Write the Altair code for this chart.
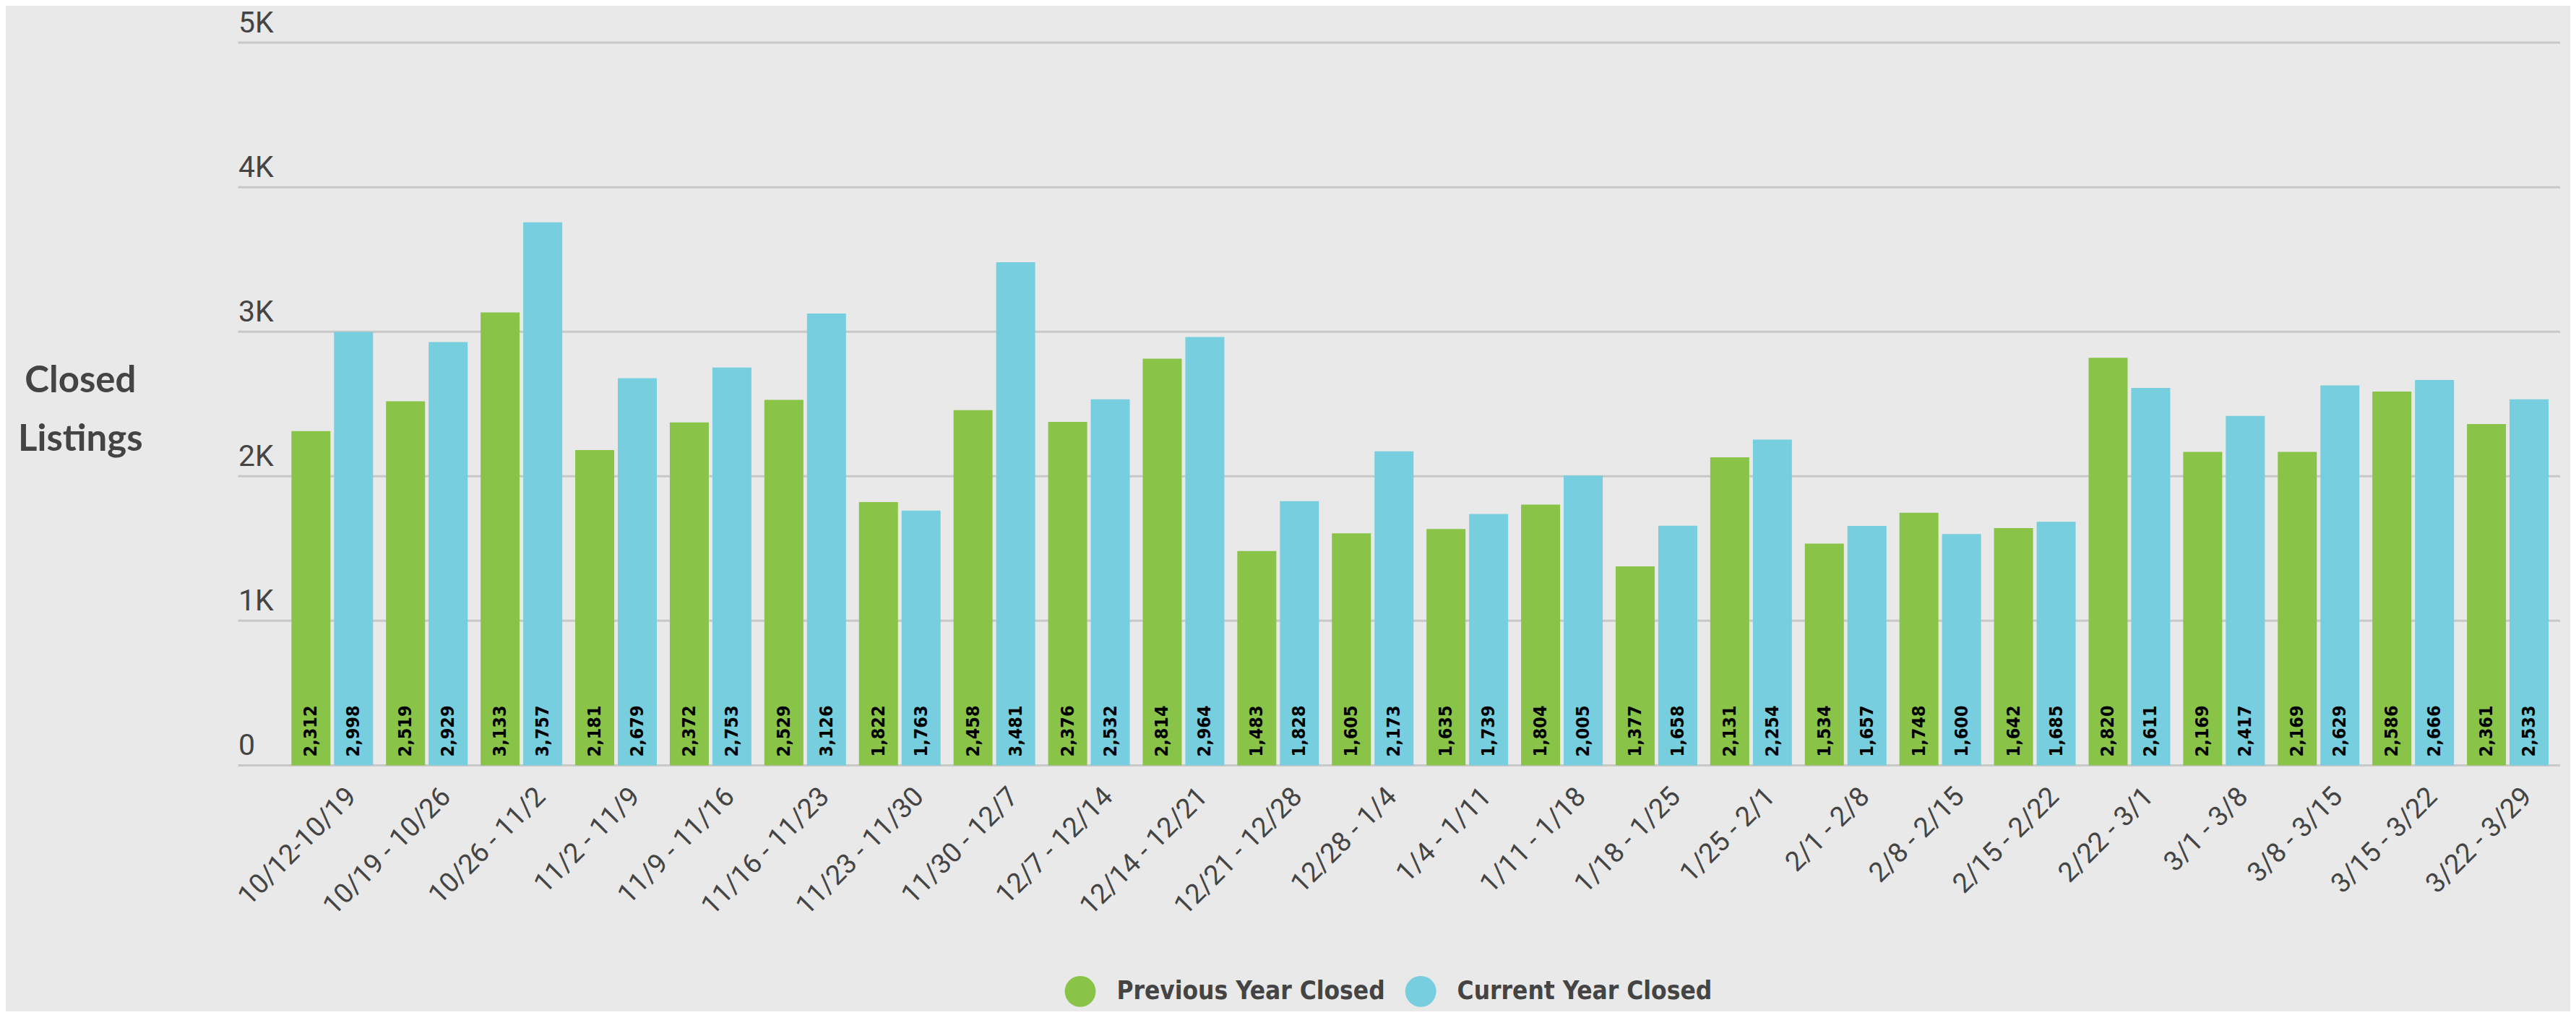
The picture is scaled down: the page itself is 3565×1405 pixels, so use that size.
import altair as alt
import pandas as pd

weeks = ["10/12-10/19", "10/19 - 10/26", "10/26 - 11/2", "11/2 - 11/9", "11/9 - 11/16",
         "11/16 - 11/23", "11/23 - 11/30", "11/30 - 12/7", "12/7 - 12/14", "12/14 - 12/21",
         "12/21 - 12/28", "12/28 - 1/4", "1/4 - 1/11", "1/11 - 1/18", "1/18 - 1/25",
         "1/25 - 2/1", "2/1 - 2/8", "2/8 - 2/15", "2/15 - 2/22", "2/22 - 3/1",
         "3/1 - 3/8", "3/8 - 3/15", "3/15 - 3/22", "3/22 - 3/29"]
previous = [2312, 2519, 3133, 2181, 2372, 2529, 1822, 2458, 2376, 2814, 1483, 1605,
            1635, 1804, 1377, 2131, 1534, 1748, 1642, 2820, 2169, 2169, 2586, 2361]
current = [2998, 2929, 3757, 2679, 2753, 3126, 1763, 3481, 2532, 2964, 1828, 2173,
           1739, 2005, 1658, 2254, 1657, 1600, 1685, 2611, 2417, 2629, 2666, 2533]
series = ["Previous Year Closed", "Current Year Closed"]
colors = ["#89c448", "#76cede"]
y_ticks = [0, 1000, 2000, 3000, 4000, 5000]

rows = []
for w, p, c in zip(weeks, previous, current):
    rows.append({"week": w, "series": series[0], "value": p, "base": 0})
    rows.append({"week": w, "series": series[1], "value": c, "base": 0})
df = pd.DataFrame(rows)
grid_df = pd.DataFrame({"v": y_ticks})

W, H = 3161, 1002
COND = "DejaVu Sans Condensed, sans-serif"
LIGHT = "Roboto, sans-serif"

yscale = alt.Scale(domain=[0, 5000], nice=False, zero=True)
yaxis = alt.Axis(
    values=y_ticks, grid=False, domain=False, ticks=False,
    labelExpr="datum.value == 0 ? '0' : (datum.value / 1000) + 'K'",
    labelAlign="left", labelBaseline="alphabetic", labelPadding=58, labelOffset=-15,
    labelFont=LIGHT, labelFontWeight=400, labelFontSize=41, labelColor="#444444",
    title=["Closed", "Listings"], titleAngle=0, titleAlign="center",
    titleBaseline="alphabetic", titleX=-277, titleY=484,
    titleFont="Lato", titleFontSize=51, titleFontWeight="bold",
    titleColor="#444444", titleLineHeight=81,
)
xscale = alt.Scale(paddingInner=0.137, paddingOuter=0.122)
xaxis = alt.Axis(
    title=None, domain=False, ticks=False, labelAngle=-45, labelAlign="right",
    labelBaseline="top", labelPadding=24, labelOffset=14, labelLimit=0,
    labelFont=LIGHT, labelFontWeight=400, labelFontSize=38, labelColor="#444444",
)
xenc = alt.X("week:N", sort=weeks, scale=xscale, axis=xaxis)
xoff = alt.XOffset("series:N", sort=series, scale=alt.Scale(paddingInner=0.085))

grid = alt.Chart(grid_df).mark_rule(color="#c8c8c8", strokeWidth=3).encode(
    y=alt.Y("v:Q", scale=yscale, axis=yaxis),
    x=alt.value(-58), x2=alt.value(W),
)

bars = alt.Chart(df).mark_bar().encode(
    x=xenc, xOffset=xoff,
    y=alt.Y("value:Q", scale=yscale, axis=yaxis),
    color=alt.Color("series:N", sort=series,
                    scale=alt.Scale(domain=series, range=colors),
                    legend=alt.Legend(
                        title=None, orient="none", direction="horizontal",
                        legendX=1088, legendY=1294, padding=0,
                        symbolType="circle", symbolSize=1849, symbolStrokeWidth=0,
                        symbolOpacity=1, labelOffset=29, columnPadding=28,
                        labelFont=COND, labelFontSize=35, labelFontWeight="bold",
                        labelColor="#444444", labelLimit=0,
                    )),
)

labels = alt.Chart(df).mark_text(
    angle=270, align="left", baseline="middle", dx=12,
    font=COND, fontSize=25, fontWeight="bold", color="#000000",
).encode(
    x=xenc, xOffset=xoff,
    y=alt.Y("base:Q", scale=yscale, axis=yaxis),
    text=alt.Text("value:Q", format=","),
)

chart = alt.layer(grid, bars, labels).properties(
    width=W, height=H,
    padding={"left": 380, "top": 50, "right": 14, "bottom": 340},
    autosize=alt.AutoSizeParams(type="none"),
    background="#e8e9e8",
).configure_view(stroke=None)

chart.save("out.html", embed_options={"renderer": "svg", "actions": False})
